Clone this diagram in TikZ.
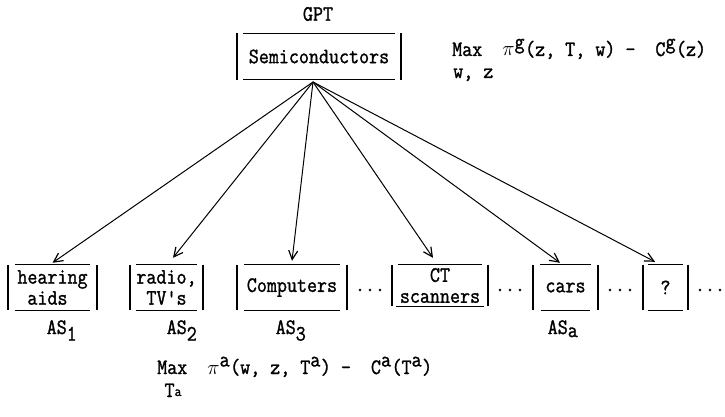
\documentclass[tikz,border=0pt]{standalone}
\usepackage{fontspec}
\setmonofont{Latin Modern Mono}[AutoFakeBold=1.3, FakeStretch=0.885]
\usetikzlibrary{arrows.meta}
\newcommand\drawbrackets[3]{%
  \draw[bar] (#1.north west) -- (#1.south west) (#1.north east) -- (#1.south east);
  \draw[rule] ([xshift=#2]#1.north west) -- ([xshift=-#2]#1.north east);
  \draw[rule] ([xshift=#3]#1.south west) -- ([xshift=-#3]#1.south east);}
\newcommand\supt[1]{\texttt{\bfseries #1}}
\begin{document}
\begin{tikzpicture}[x=1pt,y=-1pt,
  font=\fontsize{22}{21}\selectfont\ttfamily\bfseries,
  lbl/.style={inner sep=0},
  slot/.style={inner sep=0, minimum height=45, align=left},
  bar/.style={line width=1.5pt},
  rule/.style={line width=1.3pt},
  link/.style={line width=1pt, -{Straight Barb[length=9pt,width=9pt,line width=1.2pt]}}]
\useasboundingbox (0,0) rectangle (725,417);
\node[lbl] (gpt) at (318,14) {GPT};
\node[slot, minimum width=164, minimum height=46] (semi) at (319,56.5) {Semiconductors};
\drawbrackets{semi}{6}{6}
\node[lbl, anchor=base west] (maxg) at (452,56) {Max~~$\pi^{\supt{g}}$(z,~T,~w)~-~~C$^{\supt{g}}$(z)};
\node[lbl, anchor=base west] (wz) at (453,78) {w,~z};

\node[slot, minimum width=89] (hear) at (52.5,287.5) {hearing\\~aids};
\node[slot, minimum width=73] (radio) at (166.5,287.5) {radio,\\~TV's};
\node[slot, minimum width=110] (comp) at (292,287.5) {Computers};
\node[slot, minimum width=96, minimum height=41] (ct) at (440,285.5) {~~~CT\\scanners};
\node[slot, minimum width=65] (cars) at (565.5,287.5) {cars};
\node[slot, minimum width=45] (q) at (665.5,287.5) {?};
\drawbrackets{hear}{7}{7}
\drawbrackets{radio}{6}{6}
\drawbrackets{comp}{7}{7}
\drawbrackets{ct}{6}{4}
\drawbrackets{cars}{7}{8}
\drawbrackets{q}{5}{5}
\node[lbl] (d1) at (370,290) {...};
\node[lbl] (d2) at (510,290) {...};
\node[lbl] (d3) at (620,290) {...};
\node[lbl] (d4) at (710,290) {...};

\node[lbl, anchor=base] (as1) at (62,334) {AS$_{\supt{1}}$};
\node[lbl, anchor=base] (as2) at (182,334) {AS$_{\supt{2}}$};
\node[lbl, anchor=base] (as3) at (291,334) {AS$_{\supt{3}}$};
\node[lbl, anchor=base] (asa) at (563,334) {AS$_{\supt{a}}$};

\node[lbl, anchor=base west] (maxa) at (157,374) {Max~~$\pi^{\supt{a}}$(w,~z,~T$^{\supt{a}}$)~-~~C$^{\supt{a}}$(T$^{\supt{a}}$)};
\node[lbl, anchor=base] (ta) at (173,397) {T\raisebox{1pt}{\fontsize{15}{15}\selectfont a}};

\coordinate (src) at (313,82);
\draw[link] (src) -- ([yshift=2]hear.north);
\draw[link] (src) -- ([xshift=6.5,yshift=7]radio.north);
\draw[link] (src) -- ([yshift=4]comp.north);
\draw[link] (src) -- ([xshift=-7,yshift=7]ct.north);
\draw[link] (src) -- ([xshift=-5.5,yshift=2]cars.north);
\draw[link] (src) -- ([xshift=-10.5,yshift=3]q.north);
\end{tikzpicture}
\end{document}
